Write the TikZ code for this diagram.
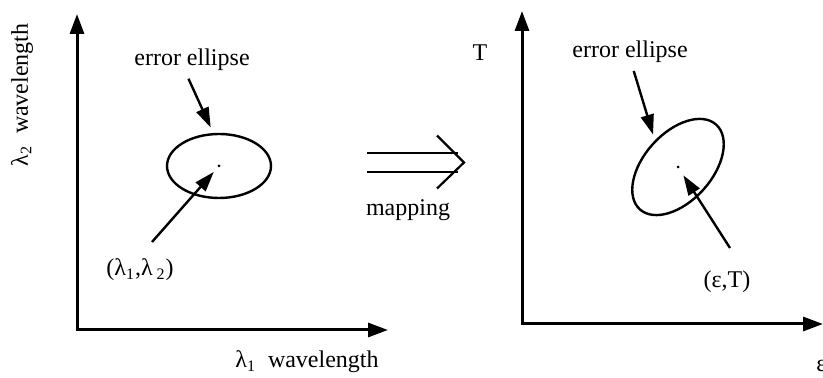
\documentclass[tikz,border=0pt]{standalone}
\usepackage{fontspec}
\setmainfont{Liberation Serif}
\usetikzlibrary{arrows.meta,shapes.geometric}
\begin{document}
\begin{tikzpicture}[x=0.5pt,y=-0.5pt,
  axis/.style={line width=1.5pt,{Triangle[length=10pt,width=7pt]}-{Triangle[length=10pt,width=7pt]}},
  pointer/.style={line width=1.2pt,-{Triangle[length=10pt,width=6.5pt]}},
  lab/.style={font=\fontsize{12}{14}\selectfont,inner sep=1pt},
  errell/.style={ellipse,draw,line width=1.2pt,inner sep=0pt},
  spot/.style={circle,fill,inner sep=0pt,minimum size=1.5pt}]
\useasboundingbox (0,0) rectangle (823,378);
% left plane
\coordinate (y1) at (77,14);
\coordinate (x1) at (388,330);
\draw[axis] (y1) |- (x1);
\node[lab,rotate=90] (ylab1) at (22,95) {λ\textsubscript{2}\ \ wavelength};
\node[lab] (xlab1) at (307,362) {λ\textsubscript{1}\ \ wavelength};
\node[errell,minimum width=52pt,minimum height=32pt] (ell1) at (219,166) {};
\node[spot] (dot1) at (219,166) {};
\node[lab] (elab1) at (192,60) {error ellipse};
\draw[pointer,shorten <=3pt,shorten >=3pt] ([xshift=-3pt]elab1.south) -- (ell1.100);
\coordinate (t1) at (152,242);
\draw[pointer,shorten >=3pt] (t1) -- (dot1);
\node[lab] (plab1) at (140,270) {(λ\textsubscript{1},λ\,\textsubscript{2})};
% mapping
\coordinate (mapa) at (367,162.5);
\coordinate (mapb) at (464,162.5);
\draw[line width=1.1pt] ([yshift=-4.75pt]mapa) -- ([xshift=-3pt,yshift=-4.75pt]mapb)
  ([yshift=4.75pt]mapa) -- ([xshift=-3pt,yshift=4.75pt]mapb);
\draw[line width=1.1pt] ([xshift=-13.5pt,yshift=13.5pt]mapb) -- (mapb) -- ([xshift=-13.5pt,yshift=-13pt]mapb);
\node[lab] (maplab) at (408,210) {mapping};
% right plane
\coordinate (y2) at (522,11);
\coordinate (x2) at (823,324);
\draw[axis] (y2) |- (x2);
\node[lab] (tlab) at (480,53) {T};
\node[lab,anchor=west] (xlab2) at (814,366) {ε};
\node[errell,minimum width=57pt,minimum height=34pt,rotate=48] (ell2) at (678,167) {};
\node[spot] (dot2) at (678,167) {};
\node[lab] (elab2) at (630,52) {error ellipse};
\draw[pointer,shorten <=3pt,shorten >=3pt] ([xshift=1pt]elab2.south) -- (ell2.83);
\coordinate (t2) at (730,248);
\draw[pointer,shorten >=4pt] (t2) -- (dot2);
\node[lab] (plab2) at (727,282) {(ε,T)};
\end{tikzpicture}
\end{document}
